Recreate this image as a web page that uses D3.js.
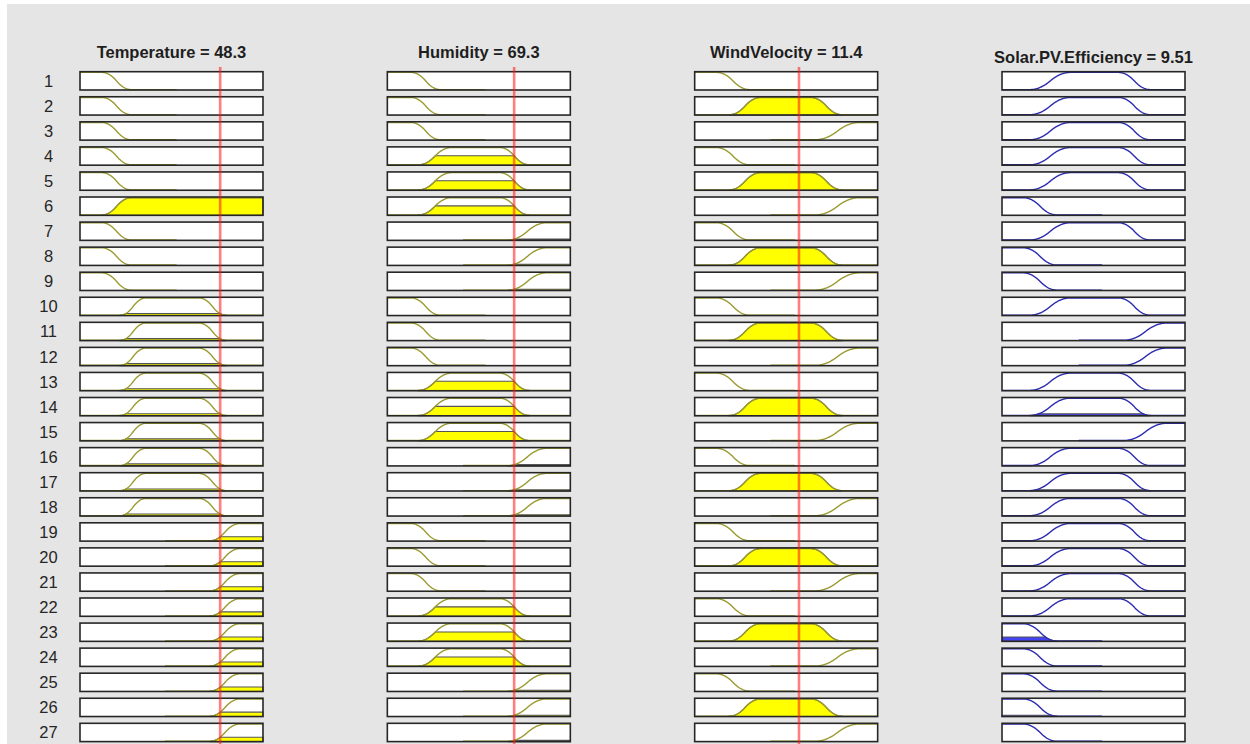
<!DOCTYPE html>
<html>
<head>
<meta charset="utf-8">
<script src="https://cdn.jsdelivr.net/npm/d3@7"></script>
<style>
  body { margin: 0; background: #fff; }
  svg { display: block; }
  text { font-family: "Liberation Sans", Arial, Helvetica, sans-serif; }
</style>
</head>
<body>
<svg id="chart" width="1250" height="744"></svg>
<script>
// ---- Fuzzy inference system: variables, membership functions, rules ----
const ruleNumbers = [1, 2, 3, 4, 5, 6, 7, 8, 9, 10, 11, 12, 13, 14, 15, 16, 17, 18, 19, 20, 21, 22, 23, 24, 25, 26, 27];

const varNames  = ["Temperature", "Humidity", "WindVelocity", "Solar.PV.Efficiency"];
const varRanges = [[10, 60], [0, 100], [0, 20], [0, 30]];

// crisp inputs and the defuzzified output shown in the titles
const inputValues = [48.3, 69.3, 11.4];
const outputValue = 9.51;

// membership functions (MATLAB-style zmf / pimf / smf parameters)
const temperatureMFs = [
  { name: "Low",    type: "zmf",  params: [16, 24] },
  { name: "Medium", type: "pimf", params: [21, 28, 42.5, 49.9] },
  { name: "High",   type: "smf",  params: [45.5, 53.7] }
];
const humidityMFs = [
  { name: "Low",    type: "zmf",  params: [13, 29] },
  { name: "Medium", type: "pimf", params: [17, 35, 61.5, 77.5] },
  { name: "High",   type: "smf",  params: [66, 87] }
];
const windMFs = [
  { name: "Low",    type: "zmf",  params: [2.4, 6] },
  { name: "Medium", type: "pimf", params: [3.8, 7.2, 12.7, 16.1] },
  { name: "High",   type: "smf",  params: [13.2, 18] }
];
const efficiencyMFs = [
  { name: "Low",    type: "zmf",  params: [3.5, 9] },
  { name: "Medium", type: "pimf", params: [4.6, 11.2, 19.1, 24.3] },
  { name: "High",   type: "smf",  params: [20, 27] }
];

// rule base: 1-based MF index per rule, negative = NOT
const temperatureRule = [1, 1, 1, 1, 1, -1, 1, 1, 1, 2, 2, 2, 2, 2, 2, 2, 2, 2, 3, 3, 3, 3, 3, 3, 3, 3, 3];
const humidityRule    = [1, 1, 1, 2, 2, 2, 3, 3, 3, 1, 1, 1, 2, 2, 2, 3, 3, 3, 1, 1, 1, 2, 2, 2, 3, 3, 3];
const windRule        = [1, 2, 3, 1, 2, 3, 1, 2, 3, 1, 2, 3, 1, 2, 3, 1, 2, 3, 1, 2, 3, 1, 2, 3, 1, 2, 3];
const efficiencyRule  = [2, 2, 2, 2, 2, 1, 2, 1, 1, 2, 3, 3, 2, 2, 3, 2, 2, 2, 2, 2, 2, 2, 1, 1, 1, 1, 1];

// ---- membership function evaluation ----
function smf(x, a, b) {
  if (x <= a) return 0;
  if (x >= b) return 1;
  const m = (a + b) / 2;
  if (x <= m) return 2 * Math.pow((x - a) / (b - a), 2);
  return 1 - 2 * Math.pow((x - b) / (b - a), 2);
}
function evalMF(mf, x) {
  const p = mf.params;
  if (mf.type === "smf") return smf(x, p[0], p[1]);
  if (mf.type === "zmf") return 1 - smf(x, p[0], p[1]);
  return smf(x, p[0], p[1]) * (1 - smf(x, p[2], p[3]));
}
function ruleMF(mfs, idx) {
  const base = mfs[Math.abs(idx) - 1];
  if (idx > 0) return x => evalMF(base, x);
  return x => 1 - evalMF(base, x);
}

// ---- layout ----
const svg = d3.select("#chart");
const W = 1250, H = 744;

svg.append("rect").attr("width", W).attr("height", H).attr("fill", "#ffffff");
svg.append("rect").attr("x", 7).attr("y", 4).attr("width", W - 7).attr("height", H - 4).attr("fill", "#e5e5e5");

const colScale = d3.scaleBand().domain(varNames).range([80, 1185]).paddingInner(0.4046).paddingOuter(0);
const rowScale = d3.scaleBand().domain(ruleNumbers).range([71.7, 741.6]).paddingInner(0.27).paddingOuter(0);

const allMFs = [temperatureMFs, humidityMFs, windMFs, efficiencyMFs];
const allRules = [temperatureRule, humidityRule, windRule, efficiencyRule];

const xScales = varNames.map((v, i) =>
  d3.scaleLinear().domain(varRanges[i]).range([colScale(v), colScale(v) + colScale.bandwidth()]));

// firing strengths
const inputDegrees = [0, 1, 2].map(i =>
  ruleNumbers.map((r, k) => ruleMF(allMFs[i], allRules[i][k])(inputValues[i])));
const firing = ruleNumbers.map((r, k) => Math.min(inputDegrees[0][k], inputDegrees[1][k], inputDegrees[2][k]));

const nSamples = 361;
const lineColors = ["#9a9a30", "#9a9a30", "#9a9a30", "#2b2bb0"];
const fillColors = ["#ffff00", "#ffff00", "#ffff00", "#4343f5"];

// row labels
svg.append("g").selectAll("text").data(ruleNumbers).join("text")
  .attr("x", 48.5)
  .attr("y", d => rowScale(d) + rowScale.bandwidth() / 2 + 6)
  .attr("text-anchor", "middle")
  .attr("font-size", 16.5)
  .attr("fill", "#262626")
  .text(d => d);

// titles
const titles = [
  `${varNames[0]} = ${inputValues[0]}`,
  `${varNames[1]} = ${inputValues[1]}`,
  `${varNames[2]} = ${inputValues[2]}`,
  `${varNames[3]} = ${outputValue}`
];
svg.append("g").selectAll("text").data(varNames).join("text")
  .attr("x", d => colScale(d) + colScale.bandwidth() / 2)
  .attr("y", (d, i) => i === 3 ? 63 : 58)
  .attr("text-anchor", "middle")
  .attr("font-size", 16.5)
  .attr("font-weight", "bold")
  .attr("fill", "#1e1e1e")
  .text((d, i) => titles[i]);

varNames.forEach((v, ci) => {
  const xs = xScales[ci];
  const [lo, hi] = varRanges[ci];
  const span = hi - lo;
  const samples = d3.range(nSamples).map(j => lo + (span * j) / (nSamples - 1));
  const g = svg.append("g");

  ruleNumbers.forEach((r, k) => {
    const top = rowScale(r), bh = rowScale.bandwidth();
    const ys = d3.scaleLinear().domain([0, 1]).range([top + bh - 0.4, top + 0.7]);
    const f = ruleMF(allMFs[ci], allRules[ci][k]);
    const vals = samples.map(x => f(x));

    // box
    g.append("rect")
      .attr("x", xs(lo)).attr("y", top)
      .attr("width", xs(hi) - xs(lo)).attr("height", bh)
      .attr("fill", "#ffffff");

    // clipped area (input degree for antecedents, firing strength for consequent)
    const level = ci < 3 ? inputDegrees[ci][k] : firing[k];
    if (level > 1e-3) {
      const clipped = vals.map(v => Math.min(v, level));
      let first = clipped.findIndex(v => v > 1e-4);
      let last = clipped.length - 1 - [...clipped].reverse().findIndex(v => v > 1e-4);
      first = Math.max(0, first - 1); last = Math.min(clipped.length - 1, last + 1);
      const pts = d3.range(first, last + 1).map(j => [samples[j], clipped[j]]);
      g.append("path")
        .attr("d", d3.area().x(d => xs(d[0])).y0(top + bh).y1(d => ys(d[1]))(pts))
        .attr("fill", fillColors[ci])
        .attr("stroke", "#555555")
        .attr("stroke-width", 1.1);
    }

    // membership curve, drawn over its support plus a short tail
    let first = vals.findIndex(v => v > 1e-4);
    let last = vals.length - 1 - [...vals].reverse().findIndex(v => v > 1e-4);
    const tail = Math.round((nSamples - 1) * 0.25);
    first = Math.max(0, first - tail); last = Math.min(vals.length - 1, last + tail);
    const linePts = d3.range(first, last + 1).map(j => [samples[j], vals[j]]);
    g.append("path")
      .attr("d", d3.line().x(d => xs(d[0])).y(d => ys(d[1]))(linePts))
      .attr("fill", "none")
      .attr("stroke", lineColors[ci])
      .attr("stroke-width", 1.4);

    // box outline
    g.append("rect")
      .attr("x", xs(lo)).attr("y", top)
      .attr("width", xs(hi) - xs(lo)).attr("height", bh)
      .attr("fill", "none")
      .attr("stroke", "#262626")
      .attr("stroke-width", 1.6);
  });

  // crisp input marker
  if (ci < 3) {
    svg.append("line")
      .attr("x1", xs(inputValues[ci])).attr("x2", xs(inputValues[ci]))
      .attr("y1", 67).attr("y2", H)
      .attr("stroke", "rgba(255,20,20,0.55)")
      .attr("stroke-width", 2.6);
  }
});
</script>
</body>
</html>
